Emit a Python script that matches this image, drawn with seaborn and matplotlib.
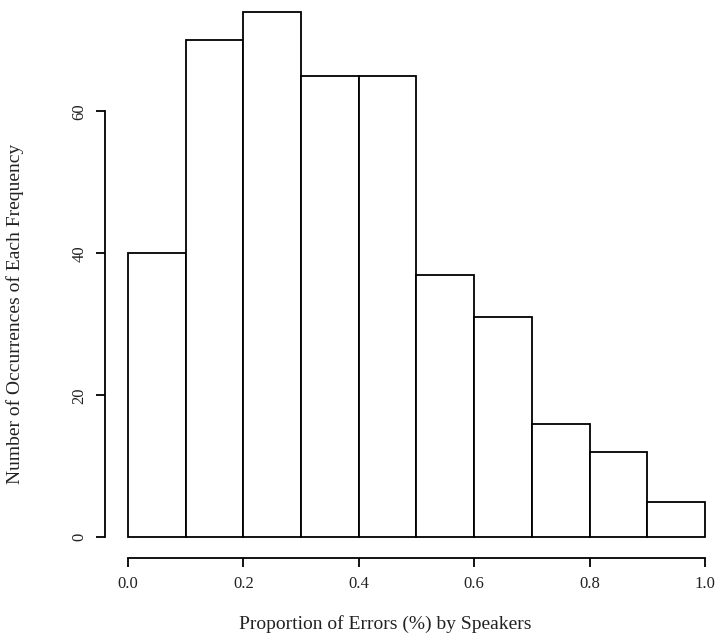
import matplotlib
matplotlib.use("Agg")
import matplotlib.pyplot as plt
import seaborn as sns
import numpy as np

# Data
bin_edges = [0.0, 0.1, 0.2, 0.3, 0.4, 0.5, 0.6, 0.7, 0.8, 0.9, 1.0]
counts = [40, 70, 74, 65, 65, 37, 31, 16, 12, 5]
x_ticks = [0.0, 0.2, 0.4, 0.6, 0.8, 1.0]
x_tick_labels = ["0.0", "0.2", "0.4", "0.6", "0.8", "1.0"]
y_ticks = [0, 20, 40, 60]
y_tick_labels = ["0", "20", "40", "60"]
x_label = "Proportion of Errors (%) by Speakers"
y_label = "Number of Occurrences of Each Frequency"

sns.set_style("white")
plt.rcParams["font.family"] = ["Liberation Serif", "DejaVu Serif"]

W, H = 716, 634
fig = plt.figure(figsize=(W / 100, H / 100), dpi=100)
left_px, right_px = 104.9, 728.0
bottom_px, top_px = 558.3, -9.1
aw, ah = right_px - left_px, bottom_px - top_px
ax = fig.add_axes([left_px / W, (H - bottom_px) / H, aw / W, ah / H])

centers = [(bin_edges[i] + bin_edges[i + 1]) / 2 for i in range(len(counts))]
sns.histplot(x=centers, weights=counts, bins=bin_edges, ax=ax,
             color="white", edgecolor="black", linewidth=1.3, alpha=1.0)

ax.set_xlim(-0.04, 1.04)
ax.set_ylim(-0.04 * max(counts), 1.04 * max(counts))

for s in ["top", "right"]:
    ax.spines[s].set_visible(False)
ax.spines["bottom"].set_bounds(0, 1)
ax.spines["left"].set_bounds(0, 60)
for s in ["bottom", "left"]:
    ax.spines[s].set_linewidth(1.3)
    ax.spines[s].set_color("black")

ax.set_xticks(x_ticks)
ax.set_xticklabels(x_tick_labels)
ax.set_yticks(y_ticks)
ax.set_yticklabels(y_tick_labels, rotation=90, va="center")
ax.tick_params(axis="both", direction="out", length=6.5, width=1.3,
               color="black", labelsize=12, bottom=True, left=True,
               labelcolor="#222222")
ax.tick_params(axis="x", pad=6)
ax.tick_params(axis="y", pad=6)

ax.set_xlabel(x_label, fontsize=14, color="#222222")
ax.set_ylabel(y_label, fontsize=14, color="#222222")
ax.xaxis.label.set_va("center")
ax.yaxis.label.set_va("center")
ax.xaxis.set_label_coords((385 - left_px) / aw, (bottom_px - 624) / ah)
ax.yaxis.set_label_coords((15 - left_px) / aw, (bottom_px - 314) / ah)

fig.savefig("out.png", dpi=100, facecolor="white")
